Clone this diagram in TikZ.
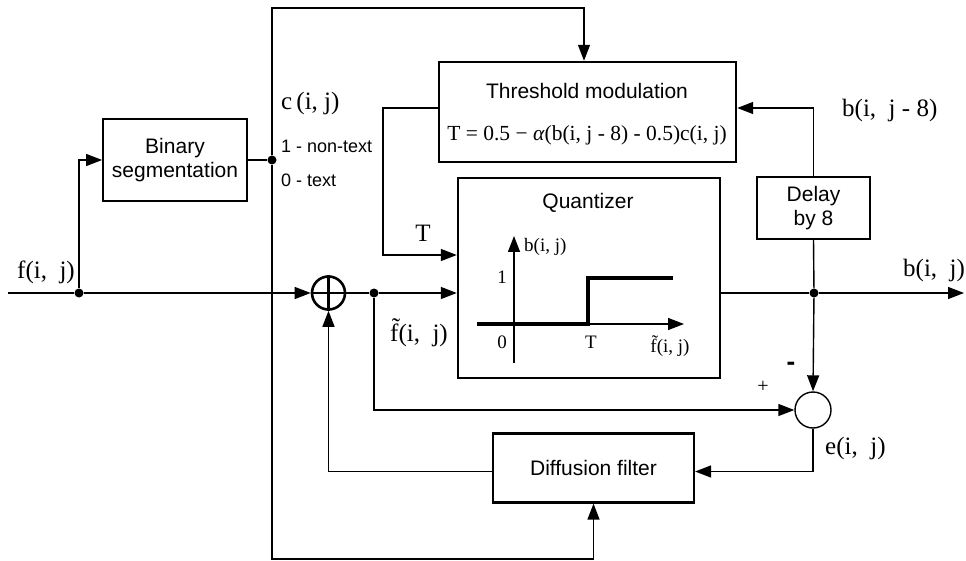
\documentclass[tikz,border=0pt]{standalone}
\usepackage{fontspec}
\setmainfont{Liberation Serif}
\newfontfamily\sansf{Liberation Sans}
\usetikzlibrary{arrows.meta,calc}
\begin{document}
\begin{tikzpicture}[x=1pt,y=-1pt,
  line/.style={line width=1.4pt},
  arr/.style={line width=1.4pt,-{Triangle[length=16pt,width=12pt]}},
  blk/.style={draw,line width=1.8pt,inner sep=0pt,align=center,font=\sansf\fontsize{21}{24}\selectfont},
  bigblk/.style={draw,line width=2.4pt,inner sep=0pt},
  dot/.style={circle,fill,inner sep=0pt,minimum size=9pt},
  slab/.style={inner sep=0pt,font=\fontsize{25}{28}\selectfont},
  sslab/.style={inner sep=0pt,font=\sansf\fontsize{18}{20}\selectfont},
  glab/.style={inner sep=0pt,font=\fontsize{19}{21}\selectfont}]
\useasboundingbox (0,0) rectangle (966,561);
% blocks
\node[blk,minimum width=144pt,minimum height=82pt] (binseg) at (175,160) {Binary\\segmentation};
\node[bigblk,minimum width=297pt,minimum height=100pt] (thr) at (587.5,112) {};
\node[inner sep=0pt,font=\sansf\fontsize{21}{24}\selectfont] (thrT) at (587,91) {Threshold modulation};
\node[inner sep=0pt,font=\fontsize{21.5}{24}\selectfont] (thrF) at (587,135) {T = 0.5 − \textit{α}(b(i, j - 8) - 0.5)c(i, j)};
\node[bigblk,minimum width=262pt,minimum height=200pt] (quant) at (589,278) {};
\node[inner sep=0pt,font=\sansf\fontsize{21}{24}\selectfont] (quantT) at (588,203) {Quantizer};
\node[blk,minimum width=113pt,minimum height=62pt] (delay) at (813.5,208) {Delay\\by 8};
\node[blk,line width=2.2pt,minimum width=201pt,minimum height=69pt] (diff) at (593.5,468) {Diffusion filter};
% summing junctions
\node[circle,draw,line width=2.6pt,minimum size=33pt,inner sep=0pt] (plus) at (328.5,293) {};
\draw[line width=2.6pt] (plus.north) -- (plus.south) (plus.west) -- (plus.east);
\node[circle,draw,line width=1.4pt,minimum size=36pt,inner sep=0pt] (err) at (813,410) {};
% dots and free ends
\node[dot] (d1) at (79,293) {};
\node[dot] (d2) at (272,160) {};
\node[dot] (d3) at (374,293) {};
\node[dot] (d4) at (814,293) {};
\coordinate (in) at (8,293);
\coordinate (out) at (964,293);
\coordinate (tl) at (272,8);
\coordinate (bl) at (272,559);
\coordinate (tk) at (383,108);
% connectors
\draw[line] (in) -- (d1);
\draw[arr] (d1) -- (plus.west);
\draw[arr] (d1) |- (binseg.west);
\draw[line] (binseg.east) -- (d2);
\draw[arr] (d2) -- (tl) -| ([xshift=-3.5pt]thr.north);
\draw[arr] (d2) -- (bl) -| (diff.south);
\draw[arr] ([yshift=4pt]thr.west) -- (tk) |- ([yshift=23pt]quant.west);
\draw[line] (plus.east) -- (d3);
\draw[arr] (d3) -- ([yshift=-15pt]quant.west);
\draw[arr] (d3) |- (err.west);
\draw[line] ([yshift=-15pt]quant.east) -- (d4);
\draw[arr] (d4) -- (out);
\draw[arr] (d4) -- (err.north);
\draw[line] (d4) -- (delay.south);
\draw[arr] (delay.north) |- ([yshift=4pt]thr.east);
\draw[arr] (err.south) |- ([yshift=-3.5pt]diff.east);
\draw[arr] ([yshift=-3.5pt]diff.west) -| (plus.south);
% quantizer graph
\coordinate (vb) at (514,363);
\coordinate (vt) at (514,236);
\coordinate (hl) at (477,324);
\coordinate (hr) at (684,324);
\draw[arr] (vb) -- (vt);
\draw[arr] (hl) -- (hr);
\draw[line width=3.2pt] (477,324) -- (588,324) -- (588,278) -- (673,278);
\node[glab,anchor=west] (gb) at (524,247) {b(i, j)};
\node[glab] (g1) at (502,277) {1};
\node[glab] (g0) at (502,342) {0};
\node[glab] (gT) at (591,342) {T};
\node[glab] (gf) at (670,346) {\~{f}(i, j)};
% labels
\node[slab] (lf) at (46,272) {f(i,\ \ j)};
\node[slab,anchor=west] (lc) at (281,103) {c\,(i, j)};
\node[sslab,anchor=west] (l1) at (281,146) {1 - non-text};
\node[sslab,anchor=west] (l0) at (281,180) {0 - text};
\node[slab] (lT) at (423,233) {T};
\node[slab] (lft) at (419,333) {\~{f}(i,\ \ j)};
\node[slab,anchor=west] (lb8) at (842,110) {b(i,\ \ j - 8)};
\node[slab,anchor=west] (lb) at (903,270) {b(i,\ \ j)};
\node[inner sep=0pt,font=\fontsize{20}{22}\selectfont] (lplus) at (763,387) {+};
\node[inner sep=0pt,font=\sansf\bfseries\fontsize{26}{28}\selectfont] (lminus) at (791,366) {-};
\node[slab,anchor=west] (le) at (825,448) {e(i,\ \ j)};
\end{tikzpicture}
\end{document}
